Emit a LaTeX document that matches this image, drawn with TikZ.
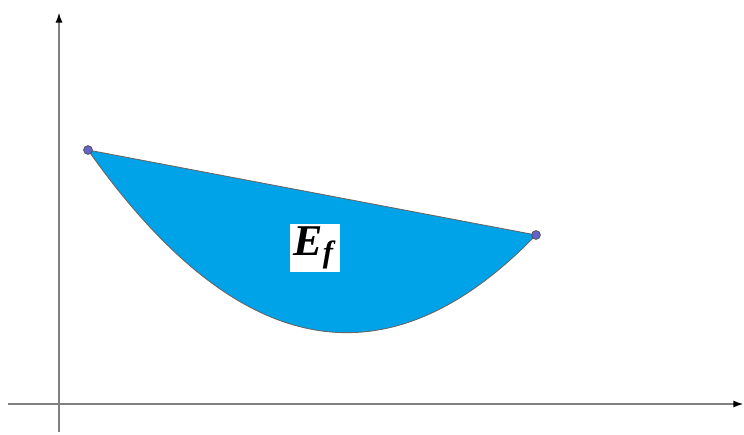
\documentclass[tikz,border=0pt]{standalone}
\usepackage{fontspec}
\setmainfont{Liberation Serif}
\usepackage{tikz}
\usetikzlibrary{arrows.meta,positioning}

\definecolor{regionblue}{RGB}{0,162,232}
\definecolor{axisgray}{RGB}{128,128,128}
\definecolor{pointviolet}{RGB}{100,100,200}

\tikzset{
  axis/.style={axisgray, line width=1.3pt, -{Latex[black,length=6pt,width=4pt]}},
  endpoint/.style={circle, draw=black!70, fill=pointviolet, inner sep=0pt, minimum size=5pt, line width=0.4pt},
  boundary/.style={black!60, line width=0.5pt}
}

\begin{document}
\begin{tikzpicture}[x=0.02cm, y=-0.02cm]
            \useasboundingbox (0,0) rectangle (744,434);
            % axes
            \coordinate (xs) at (8,404);
            \coordinate (xe) at (744,404);
            \coordinate (ys) at (59,432);
            \coordinate (ye) at (59,12);
            \draw[axis] (xs) -- (xe);
            \draw[axis] (ys) -- (ye);
            % region
            \coordinate (a) at (88,150);
            \coordinate (b) at (536,235);
            \fill[regionblue] (a) .. controls (237,361) and (387,389) .. (b) -- cycle;
            \draw[boundary] (a) .. controls (237,361) and (387,389) .. (b) -- (a);
            \node[endpoint] (pa) at (a) {};
            \node[endpoint] (pb) at (b) {};
            \node[fill=white, inner sep=2pt, minimum width=52\pgflinewidth] (ef) at (315,248)
              {\fontsize{25}{25}\selectfont\textbf{\textit{E}\textsubscript{\textit{f}}}};
        \end{tikzpicture}
\end{document}
